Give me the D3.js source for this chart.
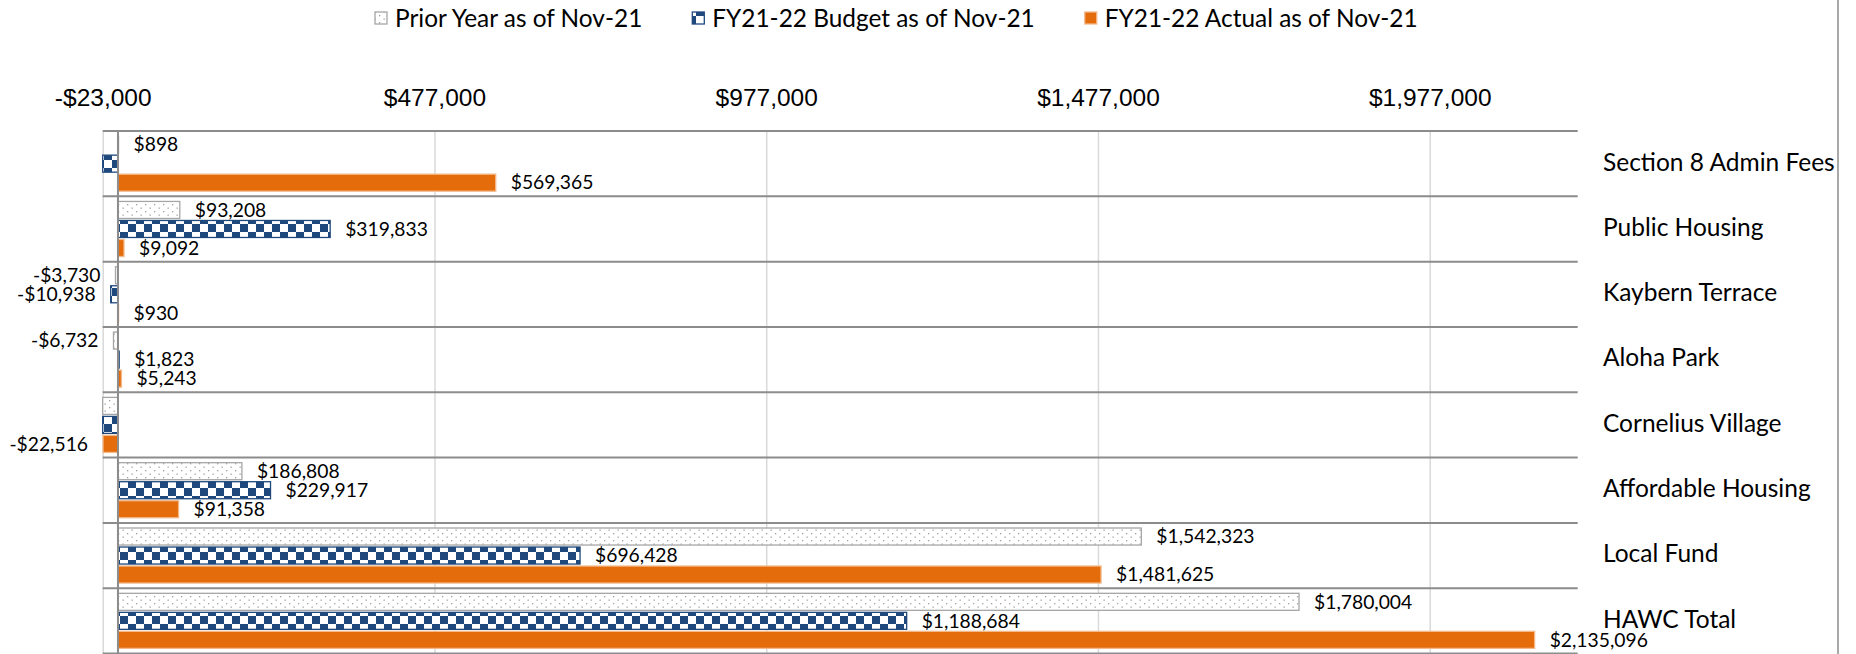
<!DOCTYPE html>
<html>
<head>
<meta charset="utf-8">
<script src="https://cdn.jsdelivr.net/npm/d3@7"></script>
<style>
    body { margin: 0; background: #fff; }
    svg { display: block; font-family: Lato, "Open Sans", sans-serif; }
    .tickLabel { font-size: 24.5px; fill: #000; }
    .legend { font-size: 24.4px; fill: #000; }
    .catLabel { font-size: 24.5px; fill: #000; }
    .barLabel { font-size: 19.3px; fill: #000; }
</style>
</head>
<body>
<div id="chart"></div>
<script>
const categories = ["Section 8 Admin Fees", "Public Housing", "Kaybern Terrace", "Aloha Park",
    "Cornelius Village", "Affordable Housing", "Local Fund", "HAWC Total"];
const seriesNames = ["Prior Year as of Nov-21", "FY21-22 Budget as of Nov-21", "FY21-22 Actual as of Nov-21"];
// values; the hidden (clipped) negatives are backed out of the HAWC totals
const priorYear = [898, 93208, -3730, -6732, -32771, 186808, 1542323, 1780004];
const budget = [-24200, 319833, -10938, 1823, -24179, 229917, 696428, 1188684];
const actual = [569365, 9092, 930, 5243, -22516, 91358, 1481625, 2135096];
const tickValues = [-23000, 477000, 977000, 1477000, 1977000];
const axisMin = -23000, axisMax = 2200000;

let width = 1856, height = 654;
let plot = {left: 102.7, right: 1577.7, top: 131, bottom: 653.5};

let svg = d3.select("#chart")
    .append("svg")
    .attr("width", width)
    .attr("height", height);

let defs = svg.append("defs");

// dotted fill for prior year
let dots = defs.append("pattern")
    .attr("id", "dots")
    .attr("patternUnits", "userSpaceOnUse")
    .attr("width", 9)
    .attr("height", 7);
dots.append("rect").attr("width", 9).attr("height", 7).attr("fill", "#fff");
dots.append("rect").attr("x", 1).attr("y", 1).attr("width", 1.3).attr("height", 1.3).attr("fill", "#a0a0a0");
dots.append("rect").attr("x", 5.5).attr("y", 4.5).attr("width", 1.3).attr("height", 1.3).attr("fill", "#a0a0a0");

// checkerboard for budget
let checker = defs.append("pattern")
    .attr("id", "checker")
    .attr("patternUnits", "userSpaceOnUse")
    .attr("width", 16)
    .attr("height", 16);
checker.append("rect").attr("width", 16).attr("height", 16).attr("fill", "#fff");
checker.append("rect").attr("width", 8).attr("height", 8).attr("fill", "#1F497D");
checker.append("rect").attr("x", 8).attr("y", 8).attr("width", 8).attr("height", 8).attr("fill", "#1F497D");

let series = [
    {name: seriesNames[0], values: priorYear, fill: "url(#dots)", stroke: "#a6a6a6"},
    {name: seriesNames[1], values: budget, fill: "url(#checker)", stroke: "#1F497D"},
    {name: seriesNames[2], values: actual, fill: "#E46C0A", stroke: "#f3b98a"}
];

let x = d3.scaleLinear()
    .domain([axisMin, axisMax])
    .range([plot.left, plot.right])
    .clamp(true);

let y = d3.scaleBand()
    .domain(categories)
    .range([plot.top, plot.bottom]);

let ySub = d3.scaleBand()
    .domain(seriesNames)
    .range([0, y.step()])
    .paddingInner(0.105)
    .paddingOuter(0.27);

// vertical gridlines
svg.append("g")
    .attr("class", "grid")
    .attr("transform", `translate(0, ${plot.top})`)
    .call(d3.axisBottom(x).tickValues(tickValues).tickSize(plot.bottom - plot.top).tickFormat(""))
    .call(g => g.select(".domain").remove())
    .call(g => g.selectAll("line").attr("stroke", "#d9d9d9").attr("stroke-width", 1.5));

// top axis labels
let fmt = d3.format(",");
svg.append("g")
    .attr("transform", `translate(0, 106)`)
    .call(d3.axisTop(x).tickValues(tickValues).tickSize(0).tickPadding(0)
        .tickFormat(d => (d < 0 ? "-" : "") + "$" + fmt(Math.abs(d))))
    .call(g => g.select(".domain").remove())
    .call(g => g.selectAll("text").attr("class", "tickLabel").attr("dy", 0)
        .style("font-family", null).style("font-size", null));

// category separators
svg.append("g")
    .selectAll("line")
    .data(categories.map(c => y(c)).concat([plot.bottom]))
    .join("line")
    .attr("x1", plot.left)
    .attr("x2", plot.right)
    .attr("y1", d => d)
    .attr("y2", d => d)
    .attr("stroke", "#8c8c8c")
    .attr("stroke-width", 2);

// bars
series.forEach(s => {
    let rows = categories.map((c, i) => ({cat: c, v: s.values[i]}));
    svg.append("g")
        .selectAll("rect")
        .data(rows)
        .join("rect")
        .attr("x", d => x(Math.min(0, d.v)))
        .attr("y", d => y(d.cat) + ySub(s.name))
        .attr("width", d => Math.abs(x(d.v) - x(0)))
        .attr("height", ySub.bandwidth())
        .attr("fill", s.fill)
        .attr("stroke", s.stroke)
        .attr("stroke-width", 1.3);

    svg.append("g")
        .selectAll("text")
        .data(rows.filter(d => d.v >= axisMin))
        .join("text")
        .attr("class", "barLabel")
        .attr("x", d => d.v < 0 ? x(d.v) - 15 : x(d.v) + 15)
        .attr("y", d => y(d.cat) + ySub(s.name) + ySub.bandwidth() / 2)
        .attr("dy", "0.35em")
        .attr("text-anchor", d => d.v < 0 ? "end" : "start")
        .text(d => (d.v < 0 ? "-" : "") + "$" + fmt(Math.abs(d.v)));
});

// zero axis line
svg.append("line")
    .attr("x1", x(0))
    .attr("x2", x(0))
    .attr("y1", plot.top)
    .attr("y2", plot.bottom)
    .attr("stroke", "#8c8c8c")
    .attr("stroke-width", 2);

// category labels on the right
svg.append("g")
    .selectAll("text")
    .data(categories)
    .join("text")
    .attr("class", "catLabel")
    .attr("x", 1603)
    .attr("y", d => y(d) + y.bandwidth() / 2)
    .attr("dy", "0.28em")
    .text(d => d);

// right border
svg.append("line")
    .attr("x1", 1838)
    .attr("x2", 1838)
    .attr("y1", 0)
    .attr("y2", height)
    .attr("stroke", "#8c8c8c")
    .attr("stroke-width", 1.5);

// legend
let lx = 375;
series.forEach(s => {
    svg.append("rect")
        .attr("x", lx)
        .attr("y", 12)
        .attr("width", 12)
        .attr("height", 12)
        .attr("fill", s.fill)
        .attr("stroke", s.stroke)
        .attr("stroke-width", 1.3);
    let t = svg.append("text")
        .attr("class", "legend")
        .attr("x", lx + 20)
        .attr("y", 27)
        .text(s.name);
    lx += 20 + t.node().getComputedTextLength() + 50;
});
</script>
</body>
</html>
